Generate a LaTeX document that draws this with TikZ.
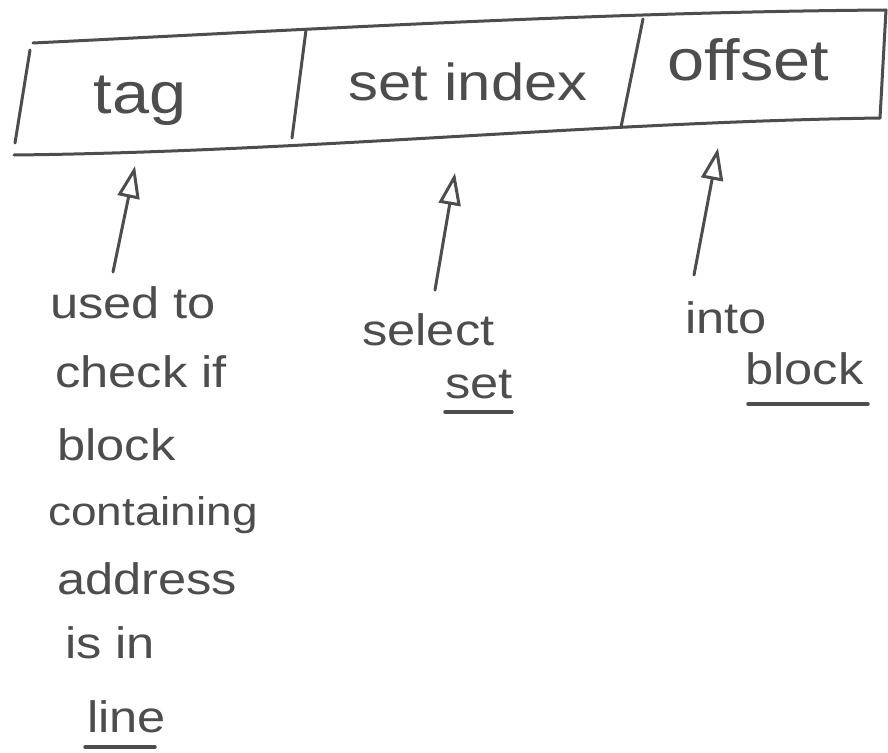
\documentclass[tikz,border=0pt]{standalone}
\usepackage{fontspec}
\newfontfamily\hand[FakeStretch=1.15]{Liberation Sans}
\usetikzlibrary{arrows.meta}
\definecolor{ink}{HTML}{4d4d4d}
\tikzset{
  pen/.style={draw=ink, line width=3pt, line cap=round, line join=round},
  boxlabel/.style={inner sep=0pt, anchor=base, text=ink, font=\hand\fontsize{52}{60}\selectfont},
  note/.style={inner sep=0pt, anchor=base west, text=ink, font=\hand\fontsize{44}{50}\selectfont},
  pointer/.style={pen, -{Triangle[open, length=32pt, width=22pt, line width=3pt]}},
  under/.style={pen, line width=3.5pt}
}
\begin{document}
\begin{tikzpicture}[x=1pt, y=-1pt]
\useasboundingbox (0,0) rectangle (888,752);
% address box (hand drawn)
\draw[pen] (33,43) .. controls (300,30) and (600,12) .. (886,10);
\draw[pen] (886,10) -- (880,118);
\draw[pen] (880,118) .. controls (600,122) and (300,152) .. (14,155);
\draw[pen] (30,50) -- (15,143);
\draw[pen] (306,30) -- (292,138);
\draw[pen] (643,19) -- (621,127);
% field labels
\node[boxlabel, font=\hand\fontsize{58}{64}\selectfont] (tag) at (140,113) {tag};
\node[boxlabel] (setidx) at (468,100) {set index};
\node[boxlabel, font=\hand\fontsize{58}{64}\selectfont] (off) at (748,80) {offset};
% arrows
\coordinate (t1) at (113,272);
\coordinate (h1) at (135,166);
\coordinate (t2) at (435,290);
\coordinate (h2) at (455,173);
\coordinate (t3) at (694,275);
\coordinate (h3) at (718,148);
\draw[pointer] (t1) -- (h1);
\draw[pointer] (t2) -- (h2);
\draw[pointer] (t3) -- (h3);
% tag note
\node[note] (n1) at (50,318) {used to};
\node[note] (n2) at (55,387) {check if};
\node[note] (n3) at (57,460) {block};
\node[note, font=\hand\fontsize{40}{50}\selectfont] (n4) at (48,525) {containing};
\node[note] (n5) at (57,594) {address};
\node[note] (n6) at (65,658) {is in};
\node[note] (n7) at (87,732) {line};
\draw[under] (85,747) -- (155,747);
% set index note
\node[note] (s1) at (362,345) {select};
\node[note] (s2) at (445,398) {set};
\draw[under] (445,412) -- (512,412);
% offset note
\node[note] (o1) at (685,333) {into};
\node[note] (o2) at (745,384) {block};
\draw[under] (748,404) -- (868,404);
\end{tikzpicture}
\end{document}
